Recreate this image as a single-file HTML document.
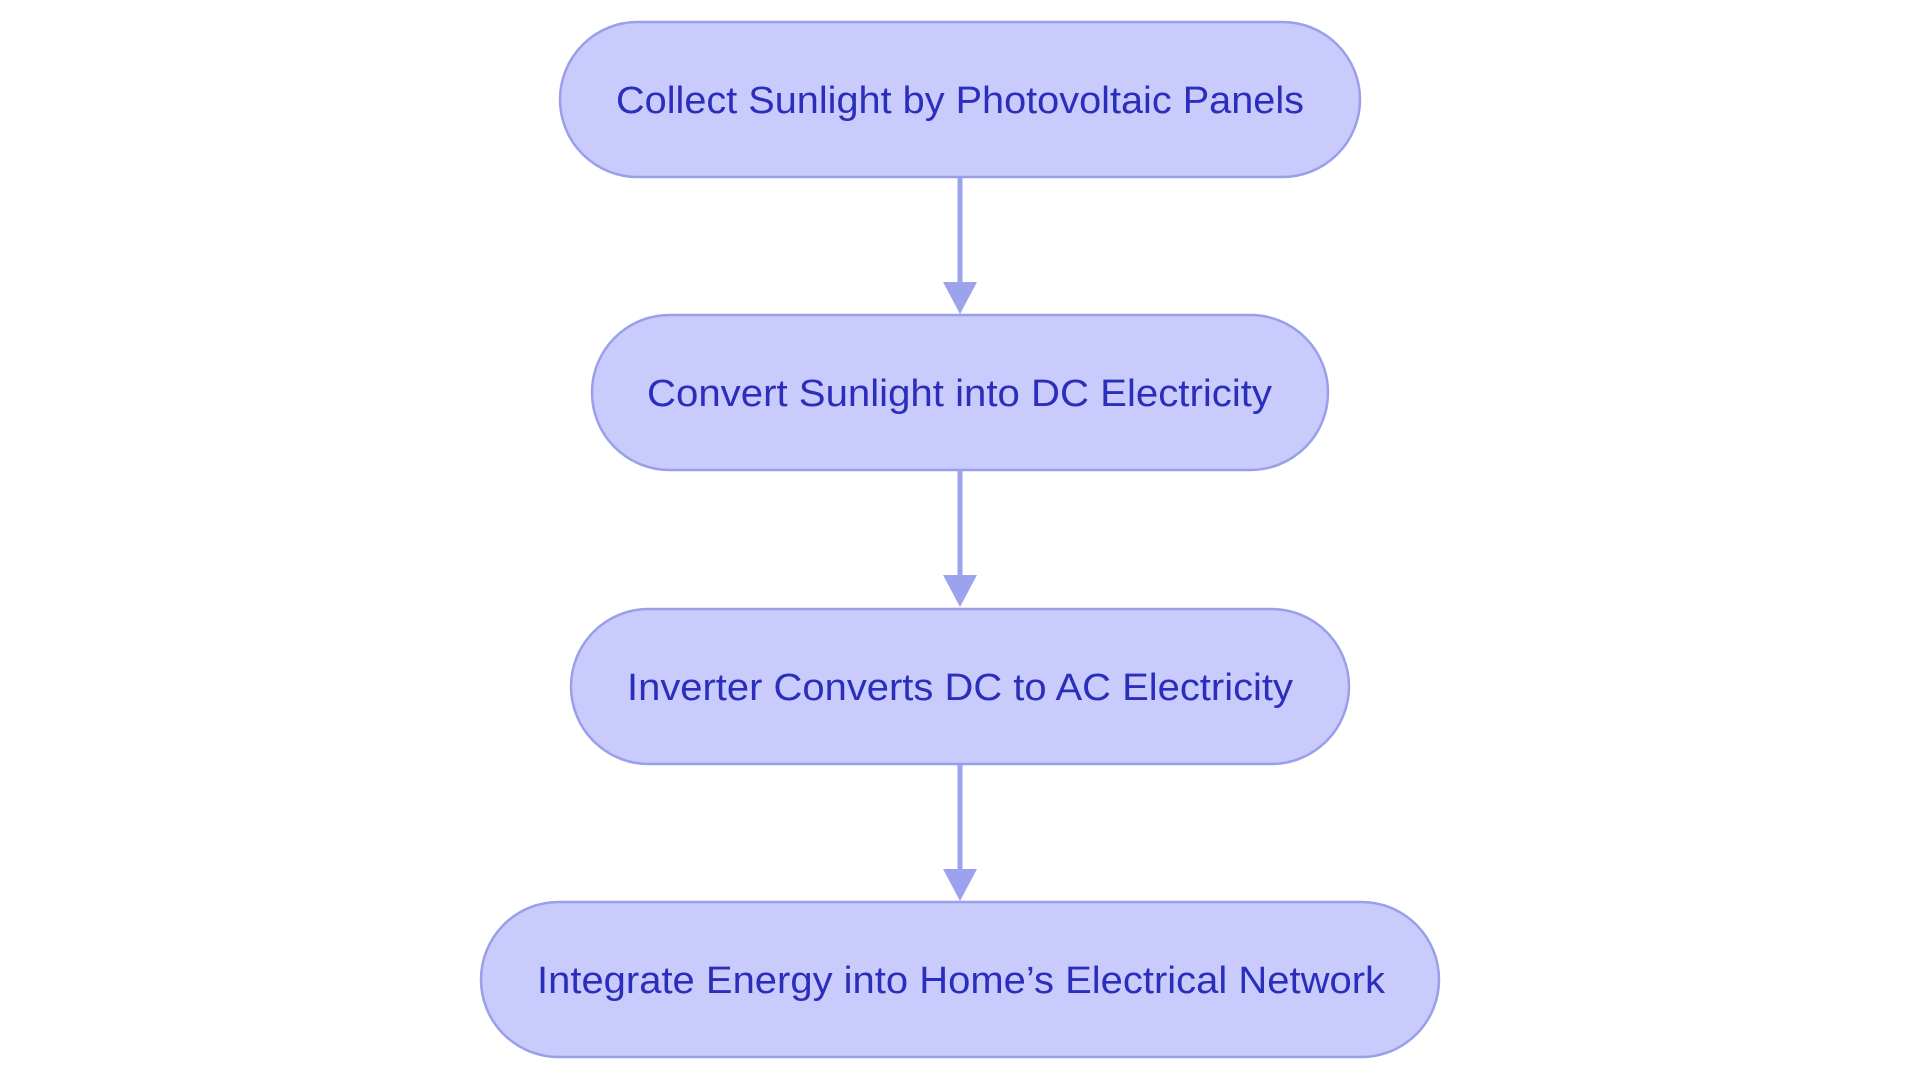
<!DOCTYPE html>
<html><head><meta charset="utf-8"><style>
html,body{margin:0;padding:0;background:#fff;width:1920px;height:1080px;overflow:hidden}
svg{display:block}
text{font-family:"Liberation Sans",sans-serif;font-size:38px;fill:#2A2EBA}
</style></head><body>
<svg width="1920" height="1080" viewBox="0 0 1920 1080" xmlns="http://www.w3.org/2000/svg">
<g fill="#C9CBFD" stroke="#9A9FEA" stroke-width="2.5">
<rect x="560" y="22" width="800" height="155" rx="77.5" ry="77.5"/>
<rect x="592" y="315" width="736" height="155" rx="77.5" ry="77.5"/>
<rect x="571" y="609" width="778" height="155" rx="77.5" ry="77.5"/>
<rect x="481" y="902" width="958" height="155" rx="77.5" ry="77.5"/>
</g>
<g stroke="#9DA2EE" stroke-width="5" fill="none">
<line x1="960" y1="178" x2="960" y2="285"/>
<line x1="960" y1="471" x2="960" y2="578"/>
<line x1="960" y1="765" x2="960" y2="872"/>
</g>
<g fill="#9DA2EE">
<polygon points="943,282 977,282 960,314"/>
<polygon points="943,575 977,575 960,607"/>
<polygon points="943,869 977,869 960,901"/>
</g>
<text x="616" y="113" textLength="688" lengthAdjust="spacingAndGlyphs">Collect Sunlight by Photovoltaic Panels</text>
<text x="647" y="406" textLength="625" lengthAdjust="spacingAndGlyphs">Convert Sunlight into DC Electricity</text>
<text x="627" y="700" textLength="666" lengthAdjust="spacingAndGlyphs">Inverter Converts DC to AC Electricity</text>
<text x="537" y="993" textLength="848" lengthAdjust="spacingAndGlyphs">Integrate Energy into Home’s Electrical Network</text>
</svg>
</body></html>
